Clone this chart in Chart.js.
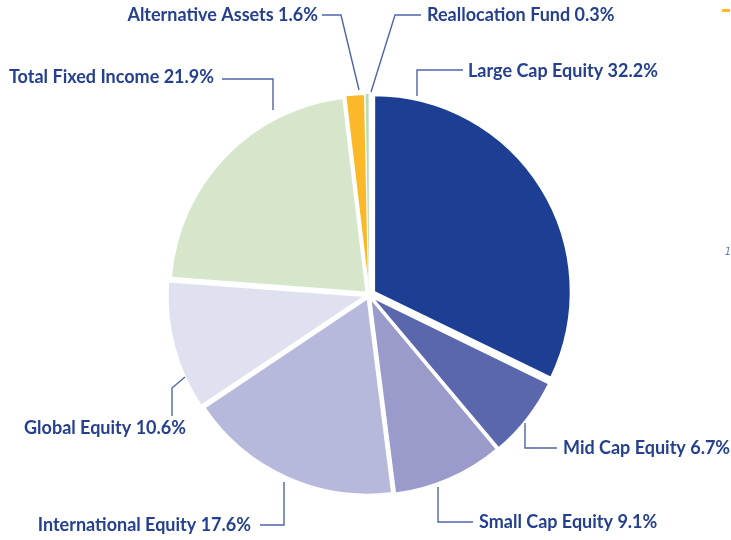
<!DOCTYPE html>
<html>
<head>
<meta charset="utf-8">
<script src="https://cdn.jsdelivr.net/npm/chart.js@4"></script>
<style>
  html, body { margin: 0; padding: 0; background: #fff; }
  #wrap { width: 731px; height: 540px; position: relative; }
</style>
</head>
<body>
<div id="wrap"><canvas id="pie" width="731" height="540"></canvas></div>
<script>
// datos del grafico
const categorias = ['Large Cap Equity', 'Mid Cap Equity', 'Small Cap Equity', 'International Equity',
                    'Global Equity', 'Total Fixed Income', 'Alternative Assets', 'Reallocation Fund'];
const porcentajes = [32.2, 6.7, 9.1, 17.6, 10.6, 21.9, 1.6, 0.3];
const colores = ['#1c3f94', '#5b67ad', '#9a9acb', '#b7b9dc', '#e0e1f0', '#d5e6cb', '#fbb829', '#b9dcb0'];

// donde va cada etiqueta y su linea guia (solo maquetacion)
const etiquetas = [
  { x: 468, y: 71,  align: 'left',  line: [[463, 70], [417, 70], [417, 96]] },
  { x: 563, y: 448, align: 'left',  line: [[525, 423], [525, 448], [557, 448]] },
  { x: 479, y: 522, align: 'left',  line: [[438, 487], [438, 522], [473, 522]] },
  { x: 251, y: 525, align: 'right', line: [[260, 525], [284, 525], [284, 482]] },
  { x: 186, y: 428, align: 'right', line: [[172, 416], [172, 388], [185, 377]] },
  { x: 214, y: 77,  align: 'right', line: [[222, 79], [273, 79], [273, 110]] },
  { x: 318, y: 15,  align: 'right', line: [[322, 15], [341, 15], [359, 90]] },
  { x: 427, y: 15,  align: 'left',  line: [[421, 15], [395, 15], [371, 92]] }
];

const etiquetasPlugin = {
  id: 'etiquetas',
  afterDraw(chart) {
    const c = chart.ctx;
    c.save();
    c.strokeStyle = '#5064aa';
    c.lineWidth = 1.4;
    etiquetas.forEach(function (e) {
      c.beginPath();
      e.line.forEach(function (p, i) {
        if (i === 0) c.moveTo(p[0], p[1]); else c.lineTo(p[0], p[1]);
      });
      c.stroke();
    });
    c.fillStyle = '#25408f';
    c.font = 'bold 18px Lato';
    c.textBaseline = 'middle';
    etiquetas.forEach(function (e, i) {
      c.textAlign = e.align;
      c.fillText(categorias[i] + ' ' + porcentajes[i].toFixed(1) + '%', e.x, e.y);
    });
    // marcas sueltas de la pagina original
    c.fillStyle = '#fbb829';
    c.fillRect(722, 9, 8, 3);
    c.fillStyle = '#6a7cb8';
    c.font = 'italic 10px "DejaVu Sans"';
    c.textAlign = 'center';
    c.fillText('1', 728, 252);
    c.restore();
  }
};

const ctx = document.getElementById('pie');

new Chart(ctx, {
  type: 'pie',
  data: {
    labels: categorias,
    datasets: [{
      data: porcentajes,
      backgroundColor: colores,
      borderColor: '#ffffff',
      borderWidth: [2, 2, 2, 2, 2, 2, 1.5, 0],
      offset: [24, 12, 12, 14, 16, 14, 10, 10],
      radius: 196
    }]
  },
  options: {
    responsive: false,
    animation: false,
    events: [],
    layout: { padding: { left: 170, right: 163, top: 96, bottom: 46 } },
    plugins: {
      legend: { display: false },
      tooltip: { enabled: false }
    }
  },
  plugins: [etiquetasPlugin]
});
</script>
</body>
</html>
